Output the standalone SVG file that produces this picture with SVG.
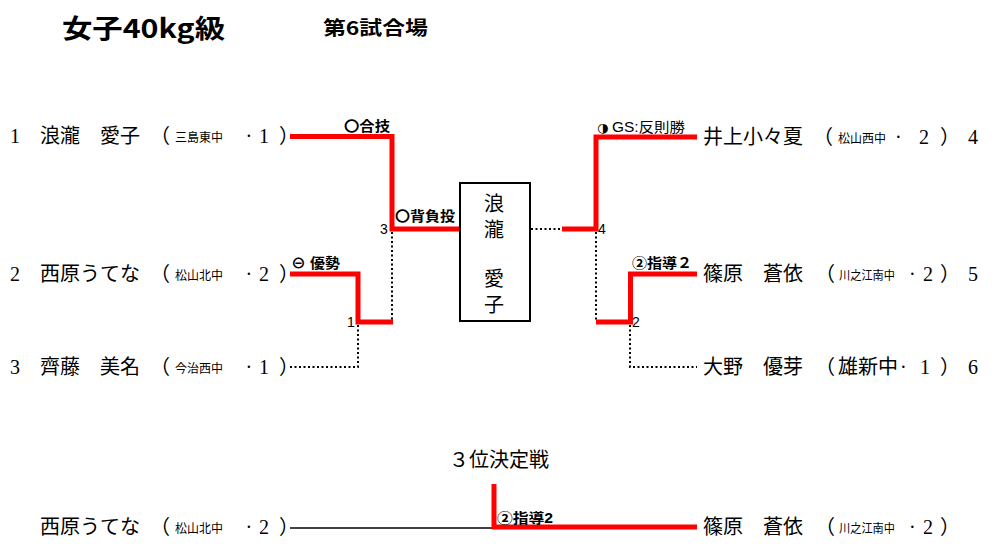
<svg xmlns="http://www.w3.org/2000/svg" width="995" height="552" viewBox="0 0 995 552">
<style>
.nm{font-family:"Liberation Serif","Noto Sans CJK JP",serif;font-size:20px;fill:#000;dominant-baseline:central}
.sc{font-family:"Noto Sans CJK JP",sans-serif;font-size:12px;fill:#000;dominant-baseline:central}
.lb{font-family:"Liberation Sans","Noto Sans CJK JP",sans-serif;font-size:14px;font-weight:bold;fill:#000;dominant-baseline:central}
.lr{font-family:"Liberation Sans","Noto Sans CJK JP",sans-serif;font-size:14px;fill:#000;dominant-baseline:central}
.red{stroke:#FF0000;stroke-width:5;fill:none;stroke-linecap:butt}
.dot{stroke:#000;stroke-width:2;fill:none;stroke-dasharray:2 2.5}
.box{font-family:"Noto Sans CJK JP",sans-serif;font-size:20px;fill:#000;text-anchor:middle;dominant-baseline:central}
</style>
<rect width="995" height="552" fill="#fff"/>
<g id="title">
<text x="62" y="38" font-family="Noto Sans CJK JP,sans-serif" font-size="26" font-weight="bold" textLength="163" lengthAdjust="spacingAndGlyphs">女子40kg級</text>
<text x="323" y="35" font-family="Noto Sans CJK JP,sans-serif" font-size="19" font-weight="bold" textLength="105" lengthAdjust="spacingAndGlyphs">第6試合場</text>
</g>
<g id="connectors">
<polyline class="red" points="290,136.5 392,136.5 392,229 460,229"/>
<polyline class="red" points="290,274 358,274 358,322 393,322"/>
<line class="dot" x1="392" y1="232" x2="392" y2="320"/>
<polyline class="dot" points="290,367 358,367 358,325"/>
<line class="dot" x1="531" y1="229" x2="562" y2="229"/>
<polyline class="red" points="562,229 596,229 596,137 697,137"/>
<line class="dot" x1="596" y1="232" x2="596" y2="320"/>
<polyline class="red" points="596,322 630.5,322 630.5,274 697,274"/>
<polyline class="dot" points="630,325 630,367 697,367"/>
<line x1="290" y1="528" x2="494" y2="528" stroke="#000" stroke-width="1.5"/>
<polyline class="red" points="494,484 494,527 697,527"/>
</g>
<g id="labels">
<text class="lb" x="344" y="126" textLength="46" lengthAdjust="spacingAndGlyphs">〇合技</text>
<text class="lb" x="395" y="216" textLength="60" lengthAdjust="spacingAndGlyphs">〇背負投</text>
<text class="lb" x="291" y="263" textLength="49" lengthAdjust="spacingAndGlyphs">⊖ 優勢</text>
<text class="lr" x="380" y="229">3</text>
<text class="lr" x="347" y="322">1</text>
<text x="597" y="127" font-family="DejaVu Sans,sans-serif" font-size="13" dominant-baseline="central">◑</text>
<text class="lr" x="612" y="127" textLength="73" lengthAdjust="spacingAndGlyphs">GS:反則勝</text>
<text class="lr" x="598" y="229">4</text>
<text class="lb" x="632" y="263" textLength="60" lengthAdjust="spacingAndGlyphs">②指導２</text>
<text class="lr" x="632" y="322">2</text>
<text class="lb" x="497" y="518" textLength="56" lengthAdjust="spacingAndGlyphs">②指導2</text>
</g>
<g id="p1">
<text class="nm" x="10" y="136">1</text>
<text class="nm" x="40" y="136">浪瀧　愛子</text>
<text class="nm" x="150" y="136">（</text>
<text class="sc" x="175" y="136">三島東中</text>
<text class="nm" x="245.5" y="136">·</text>
<text class="nm" x="259" y="136">1</text>
<text class="nm" x="279" y="136">）</text>
</g>
<g id="p2">
<text class="nm" x="10" y="274">2</text>
<text class="nm" x="40" y="274">西原うてな</text>
<text class="nm" x="150" y="274">（</text>
<text class="sc" x="175" y="274">松山北中</text>
<text class="nm" x="245.5" y="274">·</text>
<text class="nm" x="259" y="274">2</text>
<text class="nm" x="279" y="274">）</text>
</g>
<g id="p3">
<text class="nm" x="10" y="367">3</text>
<text class="nm" x="40" y="367">齊藤　美名</text>
<text class="nm" x="150" y="367">（</text>
<text class="sc" x="175" y="367">今治西中</text>
<text class="nm" x="245.5" y="367">·</text>
<text class="nm" x="259" y="367">1</text>
<text class="nm" x="279" y="367">）</text>
</g>
<g id="winner">
<rect x="460" y="183" width="70" height="138" fill="#fff" stroke="#000" stroke-width="2"/>
<text class="box" x="494" y="202">浪</text>
<text class="box" x="494" y="228">瀧</text>
<text class="box" x="494" y="277">愛</text>
<text class="box" x="494" y="303">子</text>
</g>
<g id="p4">
<text class="nm" x="703" y="137">井上小々夏</text>
<text class="nm" x="813" y="137">（</text>
<text class="sc" x="838" y="137">松山西中</text>
<text class="nm" x="895" y="137">·</text>
<text class="nm" x="919" y="137">2</text>
<text class="nm" x="940" y="137">）</text>
<text class="nm" x="968" y="137">4</text>
</g>
<g id="p5">
<text class="nm" x="703" y="274">篠原　蒼依</text>
<text class="nm" x="815" y="274">（</text>
<text class="sc" x="839" y="274" font-size="11" textLength="56" lengthAdjust="spacingAndGlyphs">川之江南中</text>
<text class="nm" x="909" y="274">·</text>
<text class="nm" x="923" y="274">2</text>
<text class="nm" x="940" y="274">）</text>
<text class="nm" x="968" y="274">5</text>
</g>
<g id="p6">
<text class="nm" x="703" y="367">大野　優芽</text>
<text class="nm" x="815" y="367">（</text>
<text class="nm" x="838" y="367" font-size="17">雄新中</text>
<text class="nm" x="900" y="367">·</text>
<text class="nm" x="920" y="367">1</text>
<text class="nm" x="940" y="367">）</text>
<text class="nm" x="968" y="367">6</text>
</g>
<g id="third">
<text class="nm" x="449" y="460" font-size="18">３位決定戦</text>
</g>
<g id="b1">
<text class="nm" x="40" y="527">西原うてな</text>
<text class="nm" x="150" y="527">（</text>
<text class="sc" x="175" y="527">松山北中</text>
<text class="nm" x="245.5" y="527">·</text>
<text class="nm" x="259" y="527">2</text>
<text class="nm" x="279" y="527">）</text>
</g>
<g id="b2">
<text class="nm" x="703" y="527">篠原　蒼依</text>
<text class="nm" x="815" y="527">（</text>
<text class="sc" x="839" y="527" font-size="11" textLength="56" lengthAdjust="spacingAndGlyphs">川之江南中</text>
<text class="nm" x="909" y="527">·</text>
<text class="nm" x="923" y="527">2</text>
<text class="nm" x="940" y="527">）</text>
</g>
</svg>
